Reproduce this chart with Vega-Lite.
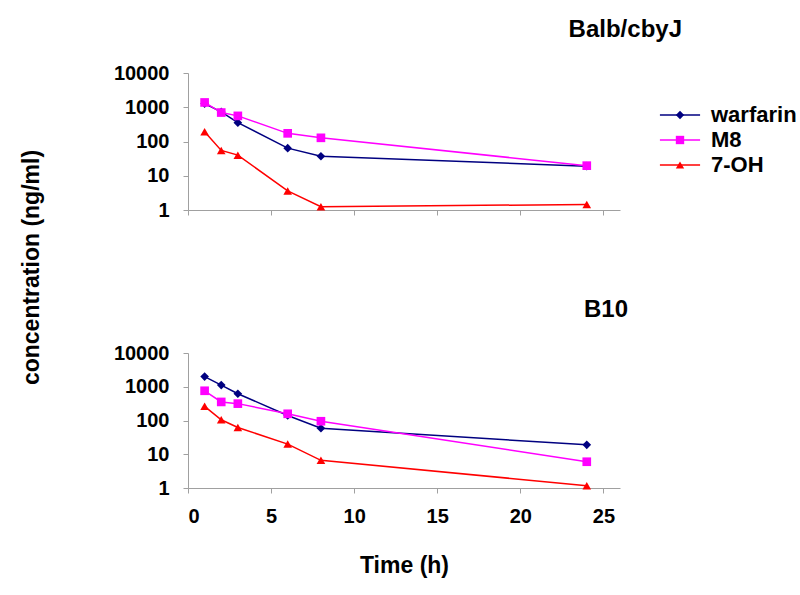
{
  "$schema": "https://vega.github.io/schema/vega-lite/v6.json",
  "padding": {"left": 20, "top": 18, "right": 5, "bottom": 5},
  "background": "white",
  "config": {
    "view": {"stroke": null},
    "font": "Liberation Sans",
    "axis": {
      "grid": false,
      "domainColor": "#a0a0a0",
      "tickColor": "#a0a0a0",
      "tickSize": 5,
      "labelFont": "Liberation Sans",
      "labelFontWeight": "bold",
      "labelFontSize": 20,
      "labelColor": "black",
      "titleFont": "Liberation Sans",
      "titleFontWeight": "bold",
      "titleColor": "black"
    }
  },
  "datasets": {
    "balb": [
      {"time": 1, "compound": "warfarin", "conc": 1280},
      {"time": 2, "compound": "warfarin", "conc": 730},
      {"time": 3, "compound": "warfarin", "conc": 355},
      {"time": 6, "compound": "warfarin", "conc": 64},
      {"time": 8, "compound": "warfarin", "conc": 37},
      {"time": 24, "compound": "warfarin", "conc": 19},
      {"time": 1, "compound": "M8", "conc": 1380},
      {"time": 2, "compound": "M8", "conc": 700},
      {"time": 3, "compound": "M8", "conc": 560},
      {"time": 6, "compound": "M8", "conc": 173},
      {"time": 8, "compound": "M8", "conc": 128},
      {"time": 24, "compound": "M8", "conc": 19.7},
      {"time": 1, "compound": "7-OH", "conc": 192},
      {"time": 2, "compound": "7-OH", "conc": 55},
      {"time": 3, "compound": "7-OH", "conc": 40},
      {"time": 6, "compound": "7-OH", "conc": 3.6},
      {"time": 8, "compound": "7-OH", "conc": 1.25},
      {"time": 24, "compound": "7-OH", "conc": 1.45}
    ],
    "b10": [
      {"time": 1, "compound": "warfarin", "conc": 2000},
      {"time": 2, "compound": "warfarin", "conc": 1120},
      {"time": 3, "compound": "warfarin", "conc": 620},
      {"time": 6, "compound": "warfarin", "conc": 141},
      {"time": 8, "compound": "warfarin", "conc": 59},
      {"time": 24, "compound": "warfarin", "conc": 19},
      {"time": 1, "compound": "M8", "conc": 760},
      {"time": 2, "compound": "M8", "conc": 355},
      {"time": 3, "compound": "M8", "conc": 316},
      {"time": 6, "compound": "M8", "conc": 158},
      {"time": 8, "compound": "M8", "conc": 95},
      {"time": 24, "compound": "M8", "conc": 6},
      {"time": 1, "compound": "7-OH", "conc": 263},
      {"time": 2, "compound": "7-OH", "conc": 105},
      {"time": 3, "compound": "7-OH", "conc": 62},
      {"time": 6, "compound": "7-OH", "conc": 20},
      {"time": 8, "compound": "7-OH", "conc": 6.6},
      {"time": 24, "compound": "7-OH", "conc": 1.17}
    ]
  },
  "bounds": "flush",
  "spacing": 143,
  "vconcat": [
    {
      "width": 432,
      "height": 137,
      "data": {"name": "balb"},
      "title": {"text": "Balb/cbyJ", "anchor": "end", "dx": 62, "fontSize": 24, "font": "Liberation Sans", "fontWeight": "bold", "baseline": "alphabetic", "offset": 2, "color": "black"},
      "layer": [
        {
          "mark": {"type": "line", "strokeWidth": 1.5},
          "encoding": {
            "x": {"field": "time", "type": "quantitative", "scale": {"domain": [0, 25]}, "axis": {"values": [0, 5, 10, 15, 20, 25], "labels": false, "title": null}},
            "y": {"field": "conc", "type": "quantitative", "scale": {"type": "log", "domain": [1, 10000]}, "axis": {"values": [1, 10, 100, 1000, 10000], "format": "d", "labelPadding": 14, "title": "concentration (ng/ml)", "titleFontSize": 23, "titleX": -157, "titleY": 194, "titleBaseline": "middle", "titleAngle": 270}},
            "color": {"field": "compound", "type": "nominal", "scale": {"domain": ["warfarin", "M8", "7-OH"], "range": ["#000080", "#FF00FF", "#FF0000"]},
              "legend": {"orient": "none", "legendX": 465, "legendY": 31, "title": null, "symbolType": "M-4.8,0H4.8", "symbolSize": 70, "symbolStrokeWidth": 1.5, "symbolOffset": 16, "labelFontSize": 22, "labelFont": "Liberation Sans", "labelFontWeight": "bold", "labelColor": "black", "labelOffset": 20, "rowPadding": 3}}
          }
        },
        {
          "mark": {"type": "point", "filled": true, "size": 75, "opacity": 1},
          "encoding": {
            "x": {"field": "time", "type": "quantitative"},
            "y": {"field": "conc", "type": "quantitative"},
            "fill": {"field": "compound", "type": "nominal", "sort": "descending", "scale": {"range": ["#000080", "#FF00FF", "#FF0000"]},
              "legend": {"orient": "none", "legendX": 465, "legendY": 31, "title": null, "symbolSize": 70, "symbolOffset": 16, "labelFontSize": 22, "labelFont": "Liberation Sans", "labelFontWeight": "bold", "labelOpacity": 0, "labelOffset": 20, "rowPadding": 3, "symbolStrokeWidth": 0}},
            "shape": {"field": "compound", "type": "nominal", "sort": "descending", "scale": {"range": ["diamond", "square", "triangle-up"]},
              "legend": {"orient": "none", "legendX": 465, "legendY": 31, "title": null, "symbolSize": 70, "symbolOffset": 16, "labelFontSize": 22, "labelFont": "Liberation Sans", "labelFontWeight": "bold", "labelOpacity": 0, "labelOffset": 20, "rowPadding": 3, "symbolStrokeWidth": 0}}
          }
        }
      ]
    },
    {
      "width": 432,
      "height": 135,
      "data": {"name": "b10"},
      "title": {"text": "B10", "anchor": "end", "dx": 8, "fontSize": 24, "font": "Liberation Sans", "fontWeight": "bold", "baseline": "alphabetic", "offset": 2, "color": "black"},
      "layer": [
        {
          "mark": {"type": "line", "strokeWidth": 1.5},
          "encoding": {
            "x": {"field": "time", "type": "quantitative", "scale": {"domain": [0, 25]}, "axis": {"values": [0, 5, 10, 15, 20, 25], "labelPadding": 13, "title": "Time (h)", "titleFontSize": 23, "titlePadding": 28}},
            "y": {"field": "conc", "type": "quantitative", "scale": {"type": "log", "domain": [1, 10000]}, "axis": {"values": [1, 10, 100, 1000, 10000], "format": "d", "labelPadding": 14, "title": null}},
            "color": {"field": "compound", "type": "nominal", "legend": null}
          }
        },
        {
          "mark": {"type": "point", "filled": true, "size": 75, "opacity": 1},
          "encoding": {
            "x": {"field": "time", "type": "quantitative"},
            "y": {"field": "conc", "type": "quantitative"},
            "fill": {"field": "compound", "type": "nominal", "sort": "descending", "legend": null},
            "shape": {"field": "compound", "type": "nominal", "sort": "descending", "legend": null}
          }
        }
      ]
    }
  ]
}
